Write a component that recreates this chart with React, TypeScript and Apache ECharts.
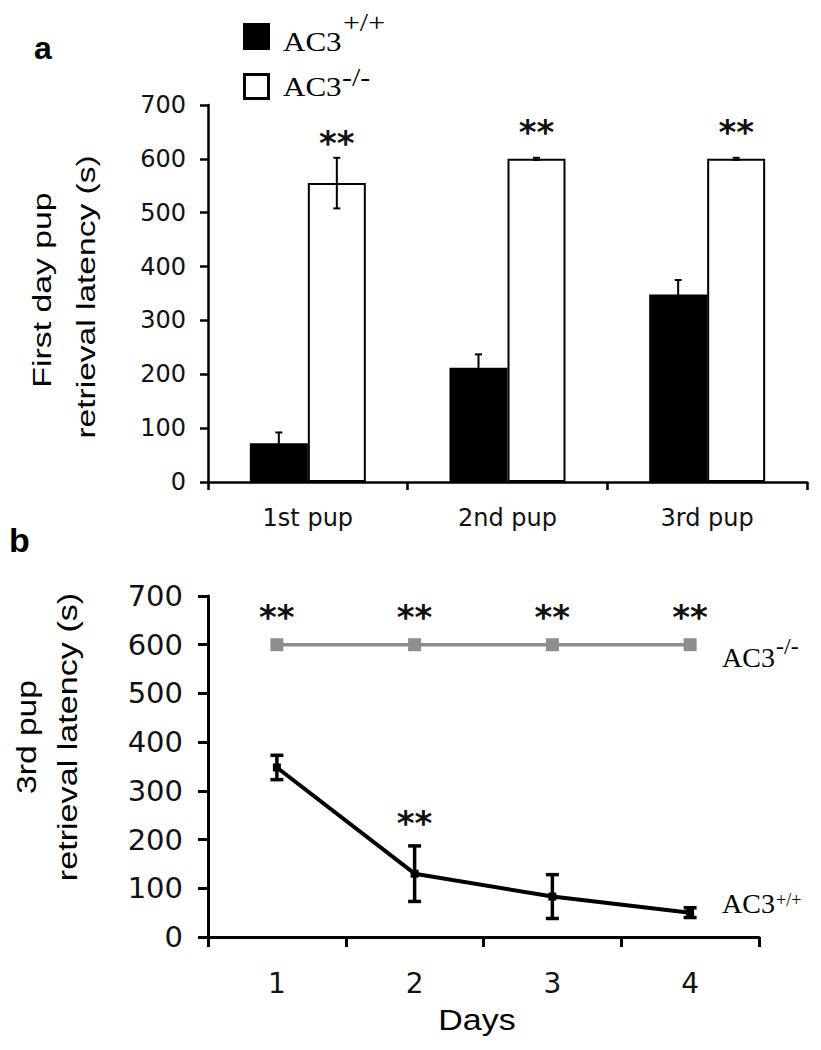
import React, { useEffect, useRef } from "react";
import * as echarts from "echarts";

// ---- Panel a data ----
const pupCategories = ["1st pup", "2nd pup", "3rd pup"];
const wtFirstDay = [72, 212, 348];
const wtFirstDayErr = [20, 25, 27];
const koFirstDay = [555, 600, 600];
const koFirstDayErr = [47, 2, 2];
const starLevelA = [629, 650, 650];

// ---- Panel b data ----
const dayCategories = ["1", "2", "3", "4"];
const wtThirdPup = [348, 130, 83, 50];
const wtThirdPupErr = [25, 57, 45, 10];
const koThirdPup = [600, 600, 600, 600];
const starLevelKoB = [656, 656, 656, 656];
const starLevelWtB: (number | null)[] = [null, 234, null, null];

const yTicks = [0, 100, 200, 300, 400, 500, 600, 700];

const TICK_FONT = "DejaVu Sans";
const SANS = "Liberation Sans";
const SERIF = "Liberation Serif";
const BAR_W = 58;

function errRender(offset: number, capW: number, lw: number) {
  return (params: any, api: any) => {
    const i = api.value(0);
    const v = api.value(1);
    const e = api.value(2);
    const top = api.coord([i, v + e]);
    const bot = api.coord([i, v - e]);
    const x = top[0] + offset;
    const st = { stroke: "#000", lineWidth: lw };
    return {
      type: "group",
      children: [
        { type: "line", shape: { x1: x, y1: top[1], x2: x, y2: bot[1] }, style: st },
        { type: "line", shape: { x1: x - capW / 2, y1: top[1], x2: x + capW / 2, y2: top[1] }, style: st },
        { type: "line", shape: { x1: x - capW / 2, y1: bot[1], x2: x + capW / 2, y2: bot[1] }, style: st },
      ],
    };
  };
}

function starRender(offset: number, size: number) {
  return (params: any, api: any) => {
    const p = api.coord([api.value(0), api.value(1)]);
    return {
      type: "text",
      x: p[0] + offset,
      y: p[1],
      style: {
        text: "**",
        fill: "#111",
        font: `bold ${size}px '${TICK_FONT}'`,
        textAlign: "center",
        textVerticalAlign: "middle",
        align: "center",
        verticalAlign: "middle",
      },
    };
  };
}

function txt(opts: any) {
  const { x, y, text, font, align = "left", rotation = 0, scaleX = 1, fill = "#000" } = opts;
  return {
    type: "text",
    x,
    y,
    rotation,
    scaleX,
    style: {
      text,
      font,
      fill,
      textAlign: align,
      textVerticalAlign: "middle",
      align,
      verticalAlign: "middle",
    },
  };
}

export default function App() {
  const ref = useRef<HTMLDivElement>(null);
  useEffect(() => {
    if (!ref.current) return;
    const chart = echarts.init(ref.current, null, { renderer: "svg" });

    const errA_wt = wtFirstDay.map((v, i) => [i, v, wtFirstDayErr[i]]);
    const errA_ko = koFirstDay.map((v, i) => [i, v, koFirstDayErr[i]]);
    const starsA = starLevelA.map((v, i) => [i, v]);
    const errB_wt = wtThirdPup.map((v, i) => [i, v, wtThirdPupErr[i]]);
    const starsB_ko = starLevelKoB.map((v, i) => [i, v]);
    const starsB_wt = starLevelWtB
      .map((v, i) => (v == null ? null : [i, v]))
      .filter((d) => d != null);

    const option: any = {
      animation: false,
      backgroundColor: "#fff",
      grid: [
        { left: 208, top: 105, width: 599, height: 377 },
        { left: 208, top: 596, width: 551, height: 341 },
      ],
      xAxis: [
        {
          type: "category",
          gridIndex: 0,
          data: pupCategories,
          boundaryGap: true,
          axisLine: { lineStyle: { color: "#000", width: 2.5 } },
          axisTick: { show: true, length: 8, lineStyle: { color: "#000", width: 2.5 } },
          axisLabel: { color: "#111", fontFamily: TICK_FONT, fontSize: 24, margin: 24 },
        },
        {
          type: "category",
          gridIndex: 1,
          data: dayCategories,
          boundaryGap: true,
          axisLine: { lineStyle: { color: "#000", width: 3 } },
          axisTick: { show: true, length: 10, lineStyle: { color: "#000", width: 3 } },
          axisLabel: { color: "#111", fontFamily: TICK_FONT, fontSize: 28, margin: 32 },
        },
      ],
      yAxis: [
        {
          type: "value",
          gridIndex: 0,
          min: yTicks[0],
          max: yTicks[yTicks.length - 1],
          interval: 100,
          splitLine: { show: false },
          axisLine: { show: true, lineStyle: { color: "#000", width: 2.5 } },
          axisTick: { show: true, length: 8, lineStyle: { color: "#000", width: 2.5 } },
          axisLabel: { color: "#111", fontFamily: TICK_FONT, fontSize: 24, margin: 22 },
        },
        {
          type: "value",
          gridIndex: 1,
          min: yTicks[0],
          max: yTicks[yTicks.length - 1],
          interval: 100,
          splitLine: { show: false },
          axisLine: { show: true, lineStyle: { color: "#000", width: 3 } },
          axisTick: { show: true, length: 10, lineStyle: { color: "#000", width: 3 } },
          axisLabel: { color: "#111", fontFamily: TICK_FONT, fontSize: 29, margin: 25 },
        },
      ],
      series: [
        {
          name: "AC3+/+",
          type: "bar",
          xAxisIndex: 0,
          yAxisIndex: 0,
          data: wtFirstDay,
          barWidth: BAR_W,
          barGap: "0%",
          itemStyle: { color: "#000" },
        },
        {
          name: "AC3-/-",
          type: "bar",
          xAxisIndex: 0,
          yAxisIndex: 0,
          data: koFirstDay,
          barWidth: BAR_W,
          barGap: "0%",
          itemStyle: { color: "#fff", borderColor: "#000", borderWidth: 2 },
        },
        {
          type: "custom",
          xAxisIndex: 0,
          yAxisIndex: 0,
          z: 5,
          data: errA_wt,
          encode: { x: 0, y: 1 },
          renderItem: errRender(-BAR_W / 2, 7, 2),
        },
        {
          type: "custom",
          xAxisIndex: 0,
          yAxisIndex: 0,
          z: 5,
          data: errA_ko,
          encode: { x: 0, y: 1 },
          renderItem: errRender(BAR_W / 2, 7, 2),
        },
        {
          type: "custom",
          xAxisIndex: 0,
          yAxisIndex: 0,
          z: 6,
          data: starsA,
          encode: { x: 0, y: 1 },
          renderItem: starRender(BAR_W / 2, 34),
        },
        {
          name: "AC3-/- days",
          type: "line",
          xAxisIndex: 1,
          yAxisIndex: 1,
          data: koThirdPup,
          symbol: "rect",
          symbolSize: 13,
          lineStyle: { color: "#8e8e8e", width: 3.5 },
          itemStyle: { color: "#8e8e8e" },
        },
        {
          name: "AC3+/+ days",
          type: "line",
          xAxisIndex: 1,
          yAxisIndex: 1,
          data: wtThirdPup,
          symbol: "rect",
          symbolSize: 8,
          lineStyle: { color: "#000", width: 4 },
          itemStyle: { color: "#000" },
        },
        {
          type: "custom",
          xAxisIndex: 1,
          yAxisIndex: 1,
          z: 5,
          data: errB_wt,
          encode: { x: 0, y: 1 },
          renderItem: errRender(0, 13, 3.5),
        },
        {
          type: "custom",
          xAxisIndex: 1,
          yAxisIndex: 1,
          z: 6,
          data: starsB_ko,
          encode: { x: 0, y: 1 },
          renderItem: starRender(0, 34),
        },
        {
          type: "custom",
          xAxisIndex: 1,
          yAxisIndex: 1,
          z: 6,
          data: starsB_wt,
          encode: { x: 0, y: 1 },
          renderItem: starRender(0, 34),
        },
      ],
      graphic: [
        txt({ x: 34, y: 48, text: "a", font: `bold 32px '${SANS}'` }),
        txt({ x: 9, y: 540, text: "b", font: `bold 34px '${SANS}'` }),
        // legend
        { type: "rect", shape: { x: 243, y: 23, width: 27, height: 27 }, style: { fill: "#000" } },
        { type: "rect", shape: { x: 244.5, y: 74.5, width: 24, height: 24 }, style: { fill: "#fff", stroke: "#000", lineWidth: 3 } },
        txt({ x: 283, y: 42, text: "AC3", font: `27px '${SERIF}'`, scaleX: 1.15 }),
        txt({ x: 343, y: 22, text: "+/+", font: `26px '${SERIF}'`, scaleX: 1.15 }),
        txt({ x: 283, y: 87, text: "AC3", font: `27px '${SERIF}'`, scaleX: 1.15 }),
        txt({ x: 342, y: 77, text: "-/-", font: `26px '${SERIF}'`, scaleX: 1.15 }),
        // y titles panel a
        txt({ x: 42, y: 290, text: "First day pup", font: `26px '${SANS}'`, align: "center", rotation: Math.PI / 2, scaleX: 1.3 }),
        txt({ x: 86, y: 297, text: "retrieval latency (s)", font: `26px '${SANS}'`, align: "center", rotation: Math.PI / 2, scaleX: 1.29 }),
        // y titles panel b
        txt({ x: 26, y: 737, text: "3rd pup", font: `28px '${SANS}'`, align: "center", rotation: Math.PI / 2, scaleX: 1.2 }),
        txt({ x: 68, y: 737, text: "retrieval latency (s)", font: `28px '${SANS}'`, align: "center", rotation: Math.PI / 2, scaleX: 1.22 }),
        // x title panel b
        txt({ x: 477, y: 1020, text: "Days", font: `29px '${SANS}'`, align: "center", scaleX: 1.17 }),
        // line labels panel b
        txt({ x: 722, y: 657, text: "AC3", font: `28px '${SERIF}'` }),
        txt({ x: 776, y: 646, text: "-/-", font: `24px '${SERIF}'` }),
        txt({ x: 722, y: 903, text: "AC3", font: `28px '${SERIF}'` }),
        txt({ x: 776, y: 900, text: "+/+", font: `18px '${SERIF}'` }),
      ],
    };

    chart.setOption(option);
    return () => chart.dispose();
  }, []);

  return (
    <div
      ref={ref}
      style={{ position: "fixed", left: 0, top: 0, width: 821, height: 1050, background: "#fff" }}
    />
  );
}
